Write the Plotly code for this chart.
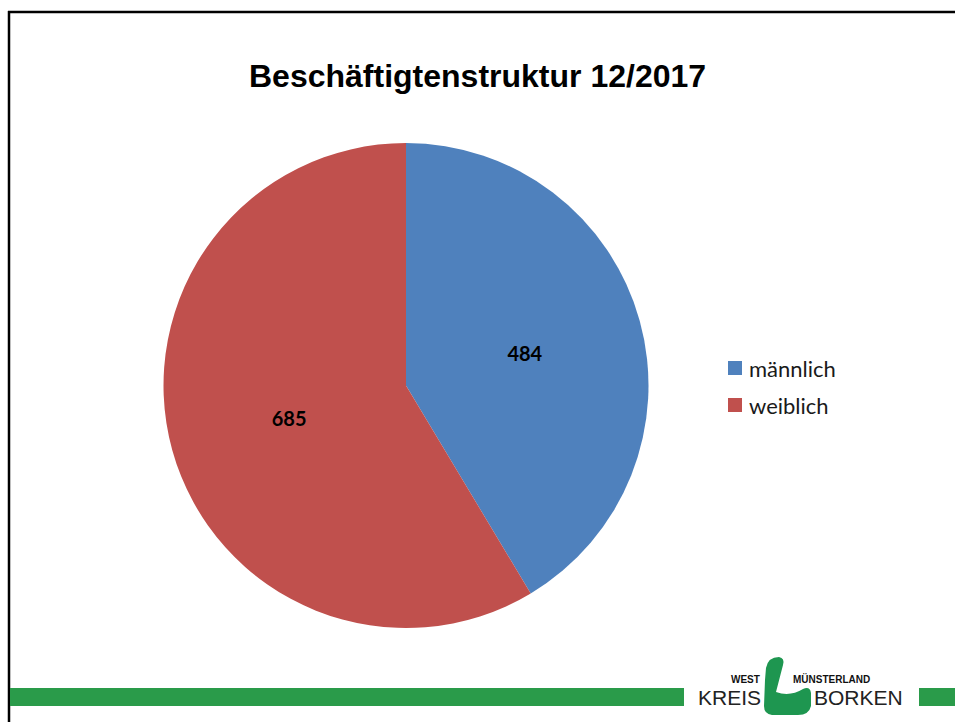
import plotly.graph_objects as go

# ---- data ----
title_text = "Beschäftigtenstruktur 12/2017"
categories = ["männlich", "weiblich"]
values = [484, 685]
colors = ["#4F81BD", "#C0504D"]

W, H = 955, 722


def px(x):
    return x / W


def py(y):
    return 1 - y / H


fig = go.Figure()

# pie geometry (pixel centre / radius)
cx, cy, r = 406, 385.5, 242.5
fig.add_trace(go.Pie(
    labels=categories,
    values=values,
    marker=dict(colors=colors, line=dict(width=0)),
    sort=False,
    direction="clockwise",
    rotation=0,
    textinfo="value",
    textposition="inside",
    insidetextorientation="horizontal",
    textfont=dict(family="Lato, Carlito, sans-serif", size=20, color="#000000", weight="bold"),
    domain=dict(x=[px(cx - r), px(cx + r)], y=[py(cy + r), py(cy - r)]),
    showlegend=False,
    hoverinfo="label+value",
))

shapes = []
annotations = []

# frame lines (top and left)
shapes.append(dict(type="line", xref="paper", yref="paper", x0=px(8), x1=px(956), y0=py(12), y1=py(12),
                   line=dict(color="#000000", width=2.5)))
shapes.append(dict(type="line", xref="paper", yref="paper", x0=px(9), x1=px(9), y0=py(11), y1=py(723),
                   line=dict(color="#000000", width=2.5)))

# green bar at bottom
bar_green = "#2A9B4A"
shapes.append(dict(type="rect", xref="paper", yref="paper", x0=px(10), x1=px(684), y0=py(706), y1=py(688),
                   fillcolor=bar_green, line=dict(width=0)))
shapes.append(dict(type="rect", xref="paper", yref="paper", x0=px(919), x1=px(956), y0=py(706), y1=py(688),
                   fillcolor=bar_green, line=dict(width=0)))

# title
annotations.append(dict(text="<b>" + title_text + "</b>", xref="paper", yref="paper", x=px(477), y=py(76),
                        xanchor="center", yanchor="middle", showarrow=False,
                        font=dict(family="Liberation Sans, Arial, sans-serif", size=32, color="#000000")))

# manual legend
leg_y = [368, 405]
for cat, col, yy in zip(categories, colors, leg_y):
    shapes.append(dict(type="rect", xref="paper", yref="paper", x0=px(728), x1=px(742),
                       y0=py(yy + 7), y1=py(yy - 7), fillcolor=col, line=dict(width=0)))
    annotations.append(dict(text=cat, xref="paper", yref="paper", x=px(747), y=py(yy),
                            xanchor="left", yanchor="middle", showarrow=False,
                            font=dict(family="Lato, Carlito, sans-serif", size=22, color="#1a1a1a")))

# logo (approximation)
logo_green = "#1E9650"


def P(xp, yp):
    return f"{px(xp):.5f},{py(yp):.5f}"


path = (f"M {P(766, 668)} Q {P(768, 657)} {P(779, 657)} Q {P(785, 658)} {P(783, 665)} "
        f"L {P(776, 692)} Q {P(790, 697)} {P(803, 689)} Q {P(810, 686)} {P(811, 693)} "
        f"L {P(811, 706)} Q {P(809, 715)} {P(798, 715)} L {P(772, 715)} Q {P(764, 714)} {P(764, 706)} "
        f"L {P(765, 680)} Z")
shapes.append(dict(type="path", xref="paper", yref="paper", path=path, fillcolor=logo_green, line=dict(width=0)))

logo_small = dict(family="Liberation Sans, Arial", size=10, color="#111111")
logo_big = dict(family="Liberation Sans, Arial", size=21, color="#222222")
annotations.append(dict(text="<b>WEST</b>", xref="paper", yref="paper", x=px(745), y=py(679),
                        xanchor="center", yanchor="middle", showarrow=False, font=logo_small))
annotations.append(dict(text="<b>MÜNSTERLAND</b>", xref="paper", yref="paper", x=px(831), y=py(679),
                        xanchor="center", yanchor="middle", showarrow=False, font=logo_small))
annotations.append(dict(text="KREIS", xref="paper", yref="paper", x=px(729), y=py(697),
                        xanchor="center", yanchor="middle", showarrow=False, font=logo_big))
annotations.append(dict(text="BORKEN", xref="paper", yref="paper", x=px(858), y=py(697),
                        xanchor="center", yanchor="middle", showarrow=False, font=logo_big))

fig.update_layout(
    width=W, height=H,
    margin=dict(l=0, r=0, t=0, b=0),
    paper_bgcolor="#FFFFFF",
    plot_bgcolor="#FFFFFF",
    shapes=shapes,
    annotations=annotations,
    showlegend=False,
)

fig.write_html("out.html", config={"displayModeBar": False},
               post_script="document.body.style.margin='0';document.body.style.overflow='hidden';")
